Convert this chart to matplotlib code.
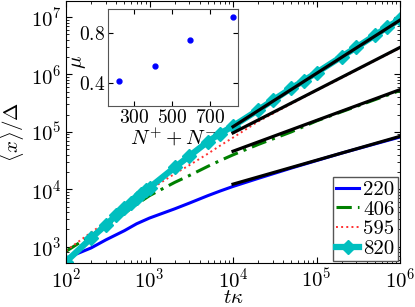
import numpy as np
import matplotlib
matplotlib.use('Agg')
import matplotlib.pyplot as plt

plt.rcParams['font.family'] = 'serif'
plt.rcParams['font.serif'] = ['cmr10']
plt.rcParams['mathtext.fontset'] = 'cm'
plt.rcParams['axes.formatter.use_mathtext'] = True

# main curves, log10 of <x>/Delta
t_main = [100, 200, 300, 500, 700, 1e3, 2e3, 3e3, 5e3, 7e3, 1e4, 2e4, 5e4, 1e5, 2e5, 5e5, 1e6]
log_220 = [2.80, 2.98, 3.12, 3.28, 3.40, 3.50, 3.66, 3.76, 3.89, 3.97, 4.05, 4.19, 4.37, 4.50, 4.63, 4.79, 4.91]
log_406 = [2.92, 3.20, 3.36, 3.58, 3.74, 3.89, 4.12, 4.24, 4.40, 4.50, 4.60, 4.78, 5.00, 5.19, 5.35, 5.56, 5.72]
log_595 = [2.93, 3.25, 3.43, 3.68, 3.84, 3.99, 4.27, 4.42, 4.62, 4.76, 4.90, 5.18, 5.49, 5.72, 5.94, 6.24, 6.46]

t_820 = [100, 200, 300, 400, 500, 600, 700, 800, 900, 1e3, 2e3, 3e3, 5e3, 7e3,
         1e4, 2e4, 3e4, 5e4, 7e4, 1e5, 2e5, 3e5, 5e5, 7e5, 1e6]
log_820 = [2.74, 3.15, 3.38, 3.55, 3.67, 3.77, 3.85, 3.92, 3.98, 4.03, 4.38, 4.58, 4.83, 4.97,
           5.10, 5.38, 5.55, 5.76, 5.89, 6.03, 6.31, 6.47, 6.68, 6.82, 6.96]

# inset: exponent mu vs N+ + N-
n_tot = [220, 406, 595, 820]
mu = [0.416, 0.536, 0.744, 0.928]

# power-law fits, value at t = 1e4
fit_y0 = [1.23e4, 4.6e4, 9.6e4, 1.23e5]
fit_t = [1e4, 1e6]

fig = plt.figure(figsize=(4.15, 3.07), dpi=100)
ax = fig.add_axes([0.159, 0.143, 0.805, 0.854])

ax.plot(t_main, 10 ** np.array(log_220), color='#0000ff', lw=2.2, label='220')
ax.plot(t_main, 10 ** np.array(log_406), color='#008000', lw=2.2, ls='-.', dashes=(5, 2, 1, 2), label='406')
ax.plot(t_main, 10 ** np.array(log_595), color='#ff3030', lw=1.4, ls=':', label='595')
ax.plot(t_820, 10 ** np.array(log_820), color='#00bfbf', lw=4.5, marker='D', ms=7, mec='#00bfbf', label='820')

for y0, m in zip(fit_y0, mu):
  ax.plot(fit_t, [y0, y0 * (fit_t[1] / fit_t[0]) ** m], color='k', lw=2.3)

ax.set_xscale('log')
ax.set_yscale('log')
ax.set_xlim(1e2, 1e6)
ax.set_ylim(5.2e2, 1.9e7)
ax.tick_params(which='both', direction='in', top=True, right=True, labelsize=15)
ax.tick_params(which='major', length=4, pad=3)
ax.tick_params(which='minor', length=2)
ax.set_xlabel(r'$t\kappa$', fontsize=15)
ax.xaxis.set_label_coords(0.5, -0.1)
ax.set_ylabel(r'$\overline{\langle x\rangle}/\Delta$', fontsize=15)
ax.yaxis.set_label_coords(-0.117, 0.5)

leg = ax.legend(loc='lower right', fontsize=15, fancybox=False, edgecolor='#555555',
                framealpha=1, handlelength=1.1, handletextpad=0.2, labelspacing=0.05,
                borderpad=0.15, borderaxespad=0.1)
leg.get_frame().set_linewidth(1.0)

ins = fig.add_axes([0.260, 0.655, 0.313, 0.316])
ins.plot(n_tot, mu, 'o', color='#0000ff', ms=3.5)
ins.set_xlim(160, 845)
ins.set_ylim(0.215, 0.99)
ins.set_xticks([300, 500, 700])
ins.set_yticks([0.4, 0.8])
ins.tick_params(direction='in', top=True, right=True, labelsize=14, pad=2)
for s in ins.spines.values():
  s.set_color('#555555')
ins.set_xlabel(r'$N^{+}+N^{-}$', fontsize=15)
ins.xaxis.set_label_coords(0.5, -0.2)
ins.text(-0.22, 0.45, r'$\mu$', fontsize=15, rotation=90, ha='center', va='center',
         transform=ins.transAxes)

fig.savefig('out.png', dpi=100)
